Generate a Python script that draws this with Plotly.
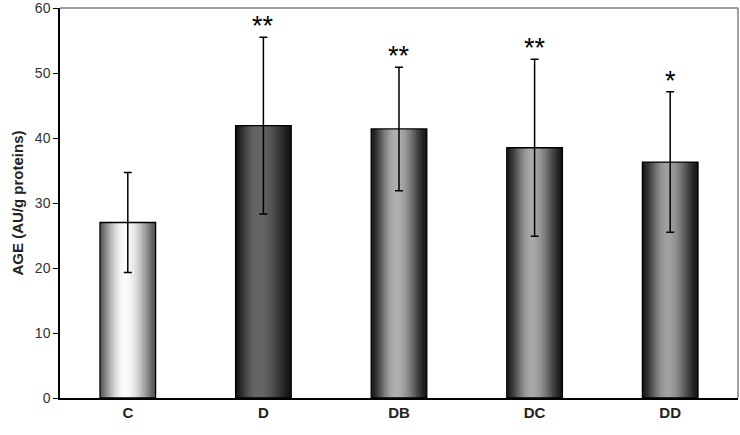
import math
import plotly.graph_objects as go

categories = ["C", "D", "DB", "DC", "DD"]
means = [27.0, 41.9, 41.4, 38.5, 36.3]
errors = [7.7, 13.6, 9.5, 13.6, 10.8]
stars = ["", "**", "**", "**", "*"]

# gradient style per bar: (left edge grey, peak grey, right edge grey, peak position, sharpness)
grad = [
    (0x58, 0xfb, 0x50, 0.45, 1.2),
    (0x14, 0x66, 0x12, 0.40, 1.3),
    (0x1a, 0xb0, 0x16, 0.45, 1.5),
    (0x1a, 0xa8, 0x16, 0.45, 1.5),
    (0x1a, 0xa0, 0x16, 0.45, 1.5),
]

BW = 0.41
N = 26
xs = list(range(len(categories)))

fig = go.Figure()

def shade(g, t):
    le, pk, re, p, k = g
    if t <= p:
        f = math.sin(math.pi / 2 * t / p) ** k
        v = le + (pk - le) * f
    else:
        f = math.sin(math.pi / 2 * (1 - t) / (1 - p)) ** k
        v = re + (pk - re) * f
    v = int(round(max(0, min(255, v))))
    return f"rgb({v},{v},{v})"

sw = BW / N
for j in range(N):
    t = (j + 0.5) / N
    fig.add_trace(go.Bar(
        x=xs, y=means,
        width=sw * 1.6 if j < N - 1 else sw,
        offset=-BW / 2 + j * sw,
        marker=dict(color=[shade(g, t) for g in grad], line=dict(width=0)),
        hoverinfo="skip", showlegend=False,
    ))

# outline + error bars
fig.add_trace(go.Bar(
    x=xs, y=means, width=BW,
    marker=dict(color="rgba(0,0,0,0)", line=dict(color="black", width=1.3)),
    error_y=dict(type="data", array=errors, visible=True, color="black",
                 thickness=1.5, width=4),
    showlegend=False,
))

for x, m, e, s in zip(xs, means, errors, stars):
    if s:
        fig.add_annotation(x=x, y=m + e + 1.7, text=s, showarrow=False,
                           yanchor="middle",
                           font=dict(family="Arial, Liberation Sans", size=27, color="black"))

fig.add_shape(type="line", xref="paper", yref="paper", x0=0, x1=1, y0=1, y1=1,
              line=dict(color="#808080", width=1.5))
fig.add_shape(type="line", xref="paper", yref="paper", x0=1, x1=1, y0=0, y1=1,
              line=dict(color="#808080", width=1.5))

fig.update_layout(
    width=740, height=435,
    margin=dict(l=60, r=2, t=8, b=37),
    barmode="overlay",
    plot_bgcolor="white", paper_bgcolor="white",
    font=dict(family="Arial, Liberation Sans", color="#222"),
    xaxis=dict(
        range=[-0.5, 4.5], tickvals=xs,
        ticktext=[f"<b>{c}</b>" for c in categories],
        tickfont=dict(size=15, color="#222"),
        showline=True, linecolor="black", linewidth=1.5,
        showgrid=False, zeroline=False, ticks="", automargin=False,
    ),
    yaxis=dict(
        range=[0, 60], tickvals=[0, 10, 20, 30, 40, 50, 60],
        ticks="outside", ticklen=5, tickwidth=1.3, tickcolor="black",
        tickfont=dict(size=14, color="#333"), ticklabeloverflow="allow",
        showline=True, linecolor="black", linewidth=1.5,
        showgrid=False, zeroline=False, automargin=False,
        title=dict(text="<b>AGE (AU/g proteins)</b>", font=dict(size=15, color="#222"),
                   standoff=8),
    ),
)

fig.write_html("out.html", config={"displayModeBar": False},
               post_script="document.body.style.margin='0';document.body.style.overflow='hidden';")
